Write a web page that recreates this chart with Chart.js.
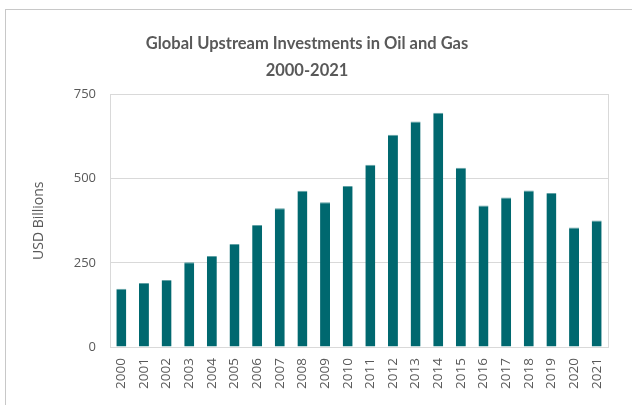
<!DOCTYPE html>
<html><head><meta charset="utf-8">
<script src="https://cdn.jsdelivr.net/npm/chart.js@4"></script>
<style>
html,body{margin:0;padding:0;background:#fff;overflow:hidden;width:632px;height:405px;}
#box{position:absolute;left:5px;top:9px;width:640px;height:410px;border:1px solid #c8c8c8;}
#wrap{position:absolute;left:0;top:0;width:626px;height:395px;}
</style></head>
<body>
<div id="box"><div id="wrap"><canvas id="c" width="626" height="395"></canvas></div></div>
<script>
const years = ['2000','2001','2002','2003','2004','2005','2006','2007','2008','2009','2010','2011','2012','2013','2014','2015','2016','2017','2018','2019','2020','2021'];
const investments = [173,190,199,252,270,306,362,412,464,430,478,541,630,670,696,532,420,444,465,457,355,376];
const yTicks = [0,250,500,750];
const titleLines = ['Global Upstream Investments in Oil and Gas','2000-2021'];
const yTitle = 'USD Billions';

const frame = {
  id:'frame',
  afterDatasetsDraw(chart){
    const a = chart.chartArea, ctx = chart.ctx;
    ctx.save();
    ctx.strokeStyle = '#d9d9d9';
    ctx.lineWidth = 1;
    ctx.strokeRect(Math.round(a.left)+0.5, Math.round(a.top)+0.5, Math.round(a.right-a.left), Math.round(a.bottom-a.top));
    ctx.restore();
  }
};

new Chart(document.getElementById('c'), {
  type:'bar',
  data:{labels:years, datasets:[{data:investments, backgroundColor:'#00686f', borderColor:'#5fa0a4', borderWidth:{top:1,left:0,right:0,bottom:0}, barPercentage:0.88, categoryPercentage:0.5}]},
  options:{
    responsive:false, animation:false,
    layout:{padding:{left:0,right:24,top:0,bottom:0}},
    plugins:{
      legend:{display:false}, tooltip:{enabled:false},
      title:{display:true, text:titleLines, color:'#595959', font:{family:'Lato', size:16.5, weight:'bold', lineHeight:1.65}, padding:{top:20,bottom:10}}
    },
    scales:{
      x:{
        grid:{display:false}, border:{color:'#d9d9d9'},
        ticks:{color:'#595959', font:{family:'Open Sans', size:13.5}, maxRotation:90, minRotation:90, padding:3, autoSkip:false},
        afterFit(s){ s.height = 58; }
      },
      y:{
        min:0, max:750,
        afterBuildTicks(s){ s.ticks = yTicks.map(v=>({value:v})); },
        grid:{color:'#d9d9d9', drawTicks:false}, border:{display:false},
        ticks:{color:'#595959', font:{family:'Open Sans', size:13}, padding:14},
        title:{display:true, text:yTitle, color:'#595959', font:{family:'Open Sans', size:14}, padding:{top:25,bottom:0}},
        afterFit(s){ s.width = 104; }
      }
    }
  },
  plugins:[frame]
});
</script>
</body></html>
